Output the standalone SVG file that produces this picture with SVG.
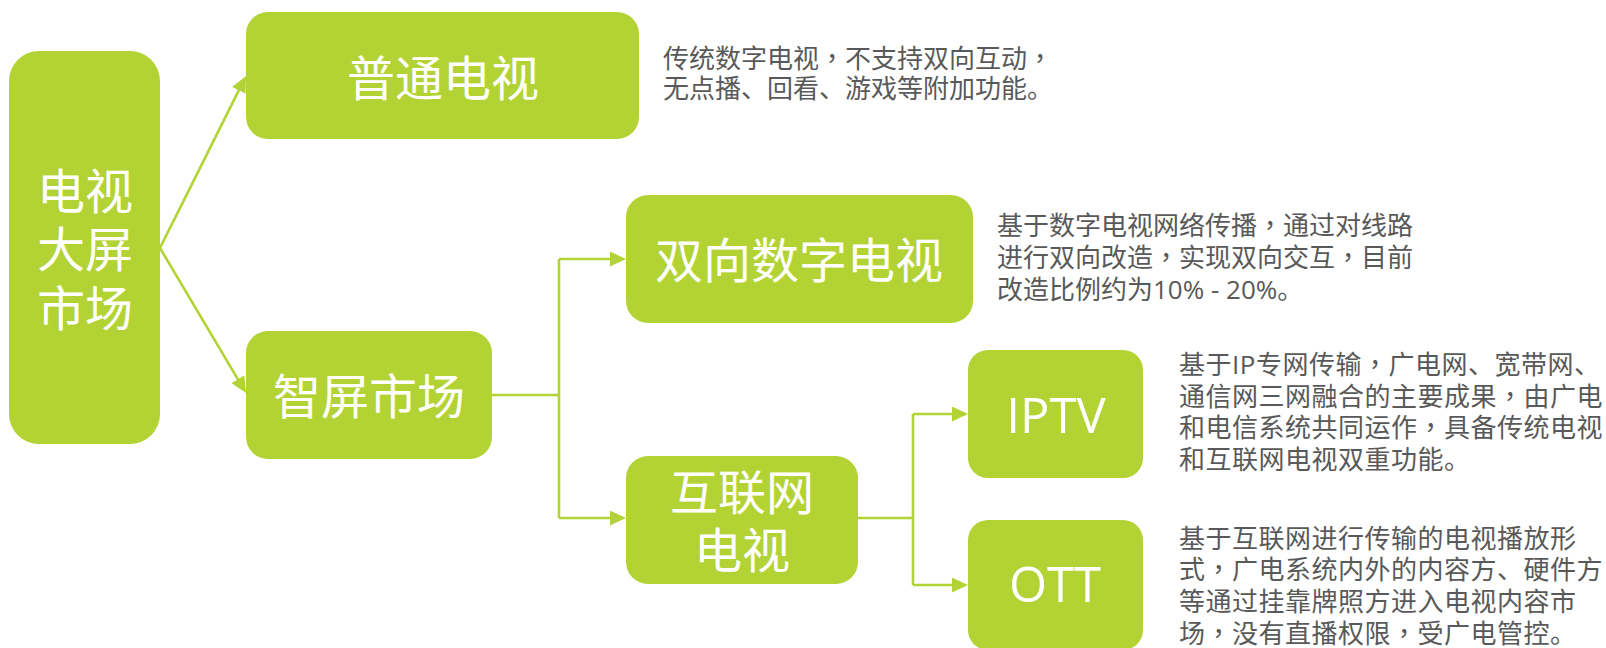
<svg xmlns="http://www.w3.org/2000/svg" width="1606" height="648" viewBox="0 0 1606 648">
<style>
.box{fill:#b3d335;}
.nt{fill:#ffffff;font-family:"Noto Sans CJK SC",sans-serif;font-size:48px;text-anchor:middle;}
.lt{fill:#ffffff;font-family:"Open Sans","Noto Sans CJK SC",sans-serif;font-size:49px;text-anchor:middle;}
.desc{fill:#595959;font-family:"Open Sans","Noto Sans CJK SC",sans-serif;font-size:26px;}
.wide{letter-spacing:0.5px;}
.pc{font-family:"Noto Sans CJK TC","Noto Sans CJK SC",sans-serif;}
.cn{fill:none;stroke:#b3d335;stroke-width:2.6;}
</style>
<defs>
<marker id="ah" markerUnits="userSpaceOnUse" markerWidth="16" markerHeight="15" refX="13" refY="7.5" orient="auto">
<path d="M0,0 L16,7.5 L0,15 z" fill="#b3d335"/>
</marker>
</defs>
<g id="connectors">
<path class="cn" d="M160,248 L244.66,78.68" marker-end="url(#ah)"/>
<path class="cn" d="M160,248 L244.47,390.42" marker-end="url(#ah)"/>
<path class="cn" d="M492,395 H559"/>
<path class="cn" d="M559,259 V518"/>
<path class="cn" d="M559,259 H623" marker-end="url(#ah)"/>
<path class="cn" d="M559,518 H623" marker-end="url(#ah)"/>
<path class="cn" d="M858,518 H913"/>
<path class="cn" d="M913,414 V585"/>
<path class="cn" d="M913,414 H965" marker-end="url(#ah)"/>
<path class="cn" d="M913,585 H965" marker-end="url(#ah)"/>
</g>
<g id="node-tv-big-screen">
<rect class="box" x="9" y="51" width="151" height="393" rx="30" ry="30"/>
<text class="nt" x="85" y="209">电视</text>
<text class="nt" x="85" y="267">大屏</text>
<text class="nt" x="85" y="326">市场</text>
</g>
<g id="node-normal-tv">
<rect class="box" x="246" y="12" width="393" height="127" rx="22" ry="22"/>
<text class="nt" x="443" y="96">普通电视</text>
</g>
<g id="node-smart-screen">
<rect class="box" x="246" y="331" width="246" height="128" rx="22" ry="22"/>
<text class="nt" x="369" y="414">智屏市场</text>
</g>
<g id="node-two-way-dtv">
<rect class="box" x="626" y="195" width="347" height="128" rx="22" ry="22"/>
<text class="nt" x="799" y="278">双向数字电视</text>
</g>
<g id="node-internet-tv">
<rect class="box" x="626" y="456" width="232" height="128" rx="22" ry="22"/>
<text class="nt" x="742" y="510">互联网</text>
<text class="nt" x="742" y="568">电视</text>
</g>
<g id="node-iptv">
<rect class="box" x="968" y="350" width="175" height="128" rx="20" ry="20"/>
<text class="lt" x="1056" y="433">IPTV</text>
</g>
<g id="node-ott">
<rect class="box" x="968" y="520" width="175" height="130" rx="20" ry="20"/>
<text class="lt" x="1055" y="602">OTT</text>
</g>
<g id="desc-normal-tv">
<text class="desc" x="663" y="68">传统数字电视<tspan class="pc">，</tspan>不支持双向互动<tspan class="pc">，</tspan></text>
<text class="desc" x="663" y="98">无点播、回看、游戏等附加功能。</text>
</g>
<g id="desc-two-way-dtv">
<text class="desc" x="997" y="235">基于数字电视网络传播<tspan class="pc">，</tspan>通过对线路</text>
<text class="desc" x="997" y="267">进行双向改造<tspan class="pc">，</tspan>实现双向交互<tspan class="pc">，</tspan>目前</text>
<text class="desc" x="997" y="299">改造比例约为10% - 20%。</text>
</g>
<g id="desc-iptv">
<text class="desc wide" x="1179" y="374">基于IP专网传输<tspan class="pc">，</tspan>广电网、宽带网、</text>
<text class="desc wide" x="1179" y="406">通信网三网融合的主要成果<tspan class="pc">，</tspan>由广电</text>
<text class="desc wide" x="1179" y="437">和电信系统共同运作<tspan class="pc">，</tspan>具备传统电视</text>
<text class="desc wide" x="1179" y="469">和互联网电视双重功能。</text>
</g>
<g id="desc-ott">
<text class="desc wide" x="1179" y="548">基于互联网进行传输的电视播放形</text>
<text class="desc wide" x="1179" y="579">式<tspan class="pc">，</tspan>广电系统内外的内容方、硬件方</text>
<text class="desc wide" x="1179" y="611">等通过挂靠牌照方进入电视内容市</text>
<text class="desc wide" x="1179" y="643">场<tspan class="pc">，</tspan>没有直播权限<tspan class="pc">，</tspan>受广电管控。</text>
</g>
</svg>
